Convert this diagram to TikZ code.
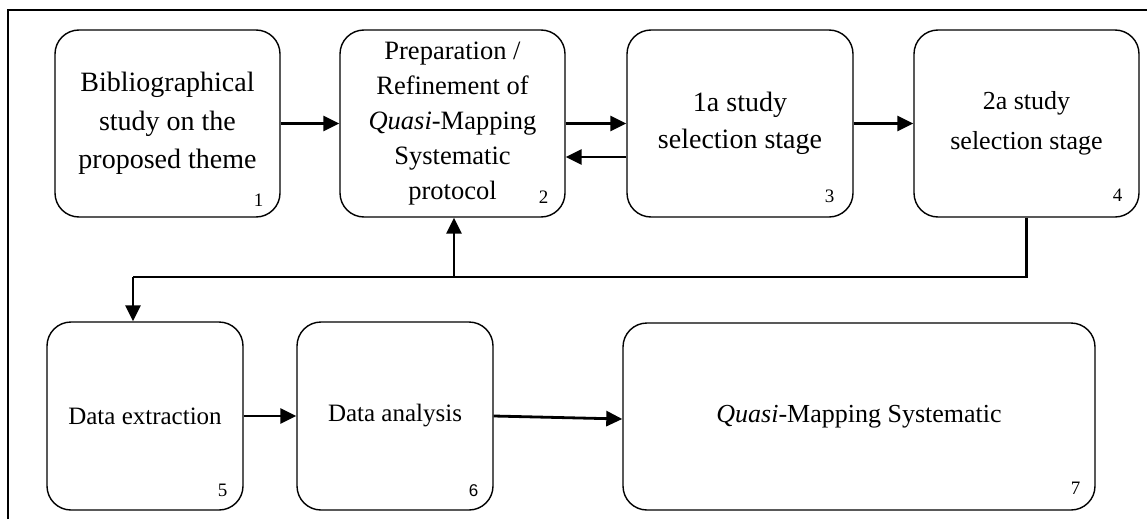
\documentclass[tikz,border=0pt]{standalone}
\usepackage{fontspec}
\setmainfont{Liberation Serif}
\newfontfamily\numsans{Liberation Sans}
\usetikzlibrary{arrows.meta,calc}
\begin{document}
\begin{tikzpicture}[x=1pt,y=-1pt,
  box/.style={draw,line width=1.4pt,rounded corners=24pt,align=center,
    font=\fontsize{26.5}{36}\selectfont,inner sep=0pt},
  num/.style={font=\fontsize{19}{19}\selectfont,inner sep=0pt},
  arr/.style={line width=2.8pt,-{Triangle[length=16pt,width=15pt]}},
  conn/.style={line width=2.8pt},
  frame/.style={line width=1.5pt}]
\useasboundingbox (0,0) rectangle (1147,519);
\draw[frame] (8,519) -- (8,10) -- (1147,10);
% top row
\node[box,minimum width=225pt,minimum height=187pt,font=\fontsize{28}{38.5}\selectfont] (b1) at (167.5,123.5)
  {Bibliographical\\study on the\\proposed theme};
\node[box,minimum width=225pt,minimum height=187pt,font=\fontsize{26.5}{35}\selectfont] (b2) at (452.5,123.5)
  {Preparation /\\Refinement of\\\textit{Quasi}-Mapping\\Systematic\\protocol};
\node[box,minimum width=226pt,minimum height=187pt,font=\fontsize{28}{37}\selectfont] (b3) at (740,123.5)
  {1a study\\selection stage};
\node[box,minimum width=225pt,minimum height=187pt,font=\fontsize{26}{40}\selectfont] (b4) at (1026.5,123.5)
  {2a study\\selection stage};
% bottom row
\node[box,minimum width=196pt,minimum height=188pt,font=\fontsize{25}{30}\selectfont] (b5) at (145,416)
  {Data extraction};
\node[box,minimum width=196pt,minimum height=188pt,font=\fontsize{25}{30}\selectfont] (b6) at (395,416)
  {Data analysis};
\node[box,minimum width=472pt,minimum height=187pt,font=\fontsize{26}{30}\selectfont] (b7) at (859,416.5)
  {\textit{Quasi}-Mapping Systematic};
% numbers
\node[num] (n1) at ($(b1.south east)+(-22,-17)$) {1};
\node[num] (n2) at ($(b2.south east)+(-22,-20)$) {2};
\node[num] (n3) at ($(b3.south east)+(-24,-21)$) {3};
\node[num] (n4) at ($(b4.south east)+(-22,-22)$) {4};
\node[num] (n5) at ($(b5.south east)+(-21,-20)$) {5};
\node[num,font=\numsans\fontsize{17}{17}\selectfont] (n6) at ($(b6.south east)+(-20,-20)$) {6};
\node[num] (n7) at ($(b7.south east)+(-20,-22)$) {7};
% connectors
\coordinate (bus) at (454,277);
\coordinate (d5) at (133,277);
\draw[arr] (b1) -- (b2);
\draw[arr] (b2.east) -- (b3.west);
\draw[arr] ([yshift=-33.5pt]b3.west) -- ([yshift=-33.5pt]b2.east);
\draw[arr] (b3) -- (b4);
\draw[conn] (b4.south) |- (d5);
\draw[arr] (d5) -- (d5 |- b5.north);
\draw[arr] (bus) -- (bus |- b2.south);
\draw[arr] (b5) -- (b6);
\draw[arr] ([yshift=0pt]b6.east) -- ([yshift=-2.5pt]b7.west);
\end{tikzpicture}
\end{document}
